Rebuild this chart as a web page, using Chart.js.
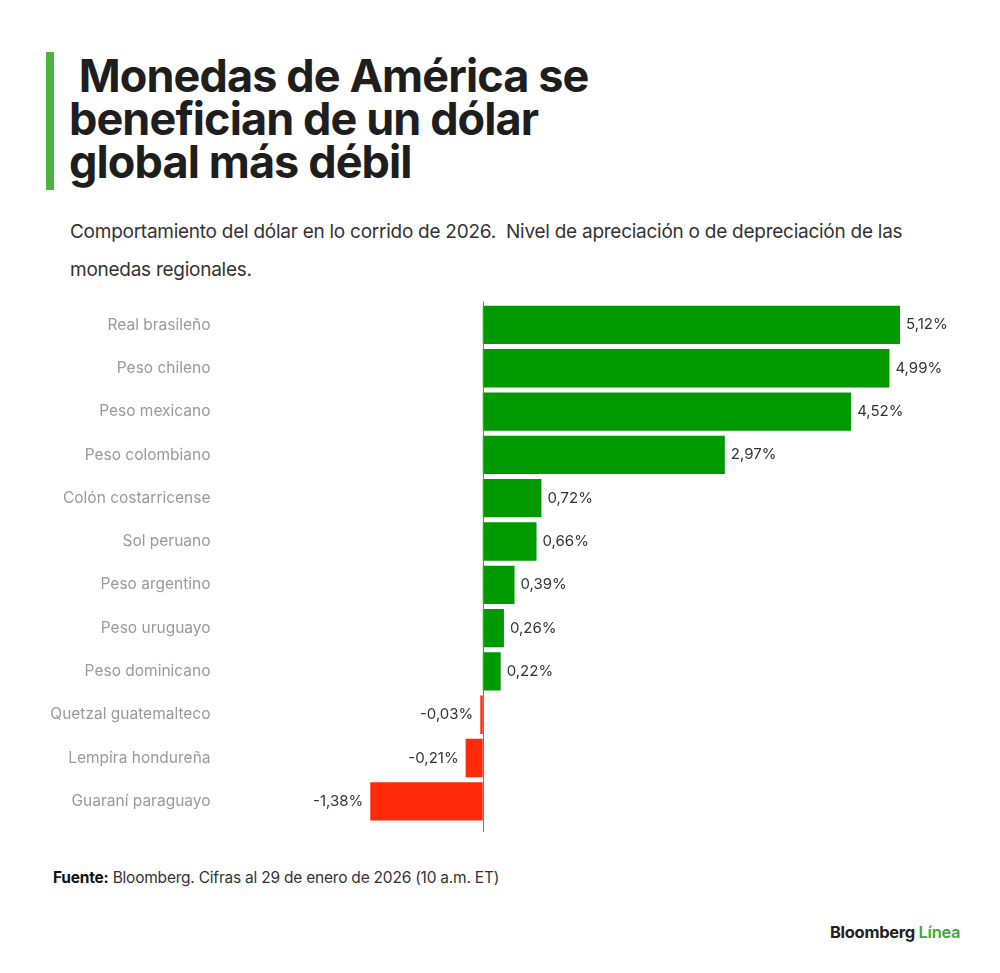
<!DOCTYPE html>
<html>
<head>
<meta charset="utf-8">
<script src="https://cdn.jsdelivr.net/npm/chart.js@4/dist/chart.umd.min.js"></script>
<style>
  html, body { margin: 0; padding: 0; background: #fff; }
  body { width: 1000px; height: 973px; position: relative; overflow: hidden; font-family: Inter, "Noto Sans", sans-serif; color: #222; }
  .bar { position: absolute; left: 46px; top: 52px; width: 8px; height: 138px; background: #4cb53f; }
  h1 { position: absolute; left: 69px; top: 54px; margin: 0; font-size: 45px; line-height: 43px; font-weight: 700; letter-spacing: -0.9px; color: #1e1e1e; }
  .sub { position: absolute; left: 70px; top: 213px; width: 850px; margin: 0; font-size: 19px; line-height: 38px; color: #333; letter-spacing: -0.26px; }
  .src { position: absolute; left: 53px; top: 868px; font-size: 15.5px; color: #333; letter-spacing: -0.22px; }
  .src b { color: #111; }
  .logo { position: absolute; left: 830px; top: 922px; font-size: 16.5px; font-weight: 700; color: #222; letter-spacing: -0.3px; }
  .logo span { color: #3aa935; font-weight: 600; }
  #chart { position: absolute; left: 0; top: 290px; width: 1000px; height: 560px; }
</style>
</head>
<body>
<div class="bar"></div>
<h1>&nbsp;Monedas de América se<br>benefician de un dólar<br>global más débil</h1>
<p class="sub">Comportamiento del dólar en lo corrido de 2026.&nbsp; Nivel de apreciación o de depreciación de las monedas regionales.</p>
<div class="src"><b>Fuente:</b> Bloomberg. Cifras al 29 de enero de 2026 (10 a.m. ET)</div>
<div class="logo">Bloomberg <span>Línea</span></div>
<canvas id="chart" width="1000" height="560"></canvas>

<script>
var currencies = ['Real brasileño', 'Peso chileno', 'Peso mexicano', 'Peso colombiano', 'Colón costarricense', 'Sol peruano',
  'Peso argentino', 'Peso uruguayo', 'Peso dominicano', 'Quetzal guatemalteco', 'Lempira hondureña', 'Guaraní paraguayo'];
var changes = [5.12, 4.99, 4.52, 2.97, 0.72, 0.66, 0.39, 0.26, 0.22, -0.03, -0.21, -1.38];

var GREEN = '#009a00';
var RED = '#ff2a0a';

function fmt(v) {
  return v.toFixed(2).replace('.', ',') + '%';
}

// zero line, a bit longer than the bars
var zeroLine = {
  id: 'zeroLine',
  afterDatasetsDraw: function (chart) {
    var ctx = chart.ctx;
    var x = Math.round(chart.scales.x.getPixelForValue(0)) + 0.5;
    ctx.save();
    ctx.strokeStyle = '#777';
    ctx.lineWidth = 1;
    ctx.beginPath();
    ctx.moveTo(x, chart.chartArea.top - 2);
    ctx.lineTo(x, chart.chartArea.bottom + 9);
    ctx.stroke();
    ctx.restore();
  }
};

// value labels at the end of each bar
var valueLabels = {
  id: 'valueLabels',
  afterDatasetsDraw: function (chart) {
    var ctx = chart.ctx;
    var meta = chart.getDatasetMeta(0);
    ctx.save();
    ctx.font = '15px Inter, "Noto Sans", sans-serif';
    ctx.fillStyle = '#333';
    ctx.textBaseline = 'middle';
    meta.data.forEach(function (bar, i) {
      var v = changes[i];
      if (v >= 0) {
        ctx.textAlign = 'left';
        ctx.fillText(fmt(v), bar.x + 6, bar.y);
      } else {
        ctx.textAlign = 'right';
        ctx.fillText(fmt(v), Math.min(bar.x, bar.base) - 7, bar.y);
      }
    });
    ctx.restore();
  }
};

new Chart(document.getElementById('chart'), {
  type: 'bar',
  data: {
    labels: currencies,
    datasets: [{
      data: changes,
      backgroundColor: changes.map(function (v) { return v >= 0 ? GREEN : RED; }),
      borderWidth: 0,
      categoryPercentage: 1,
      barPercentage: 0.885
    }]
  },
  options: {
    indexAxis: 'y',
    responsive: false,
    animation: false,
    layout: { padding: { top: 11.5, bottom: 27, left: 0, right: 69 } },
    plugins: {
      legend: { display: false },
      tooltip: { enabled: false }
    },
    scales: {
      x: {
        min: -1.5,
        max: 5.5,
        display: false
      },
      y: {
        afterFit: function (scale) { scale.width = 360.5; },
        // invisible long ticks push the labels away from the bars
        grid: { drawOnChartArea: false, drawTicks: true, tickLength: 146, color: 'rgba(0,0,0,0)' },
        border: { display: false },
        ticks: {
          padding: 4,
          color: '#9a9a9a',
          font: { family: 'Inter, "Noto Sans", sans-serif', size: 15.5 }
        }
      }
    }
  },
  plugins: [zeroLine, valueLabels]
});
</script>
</body>
</html>
